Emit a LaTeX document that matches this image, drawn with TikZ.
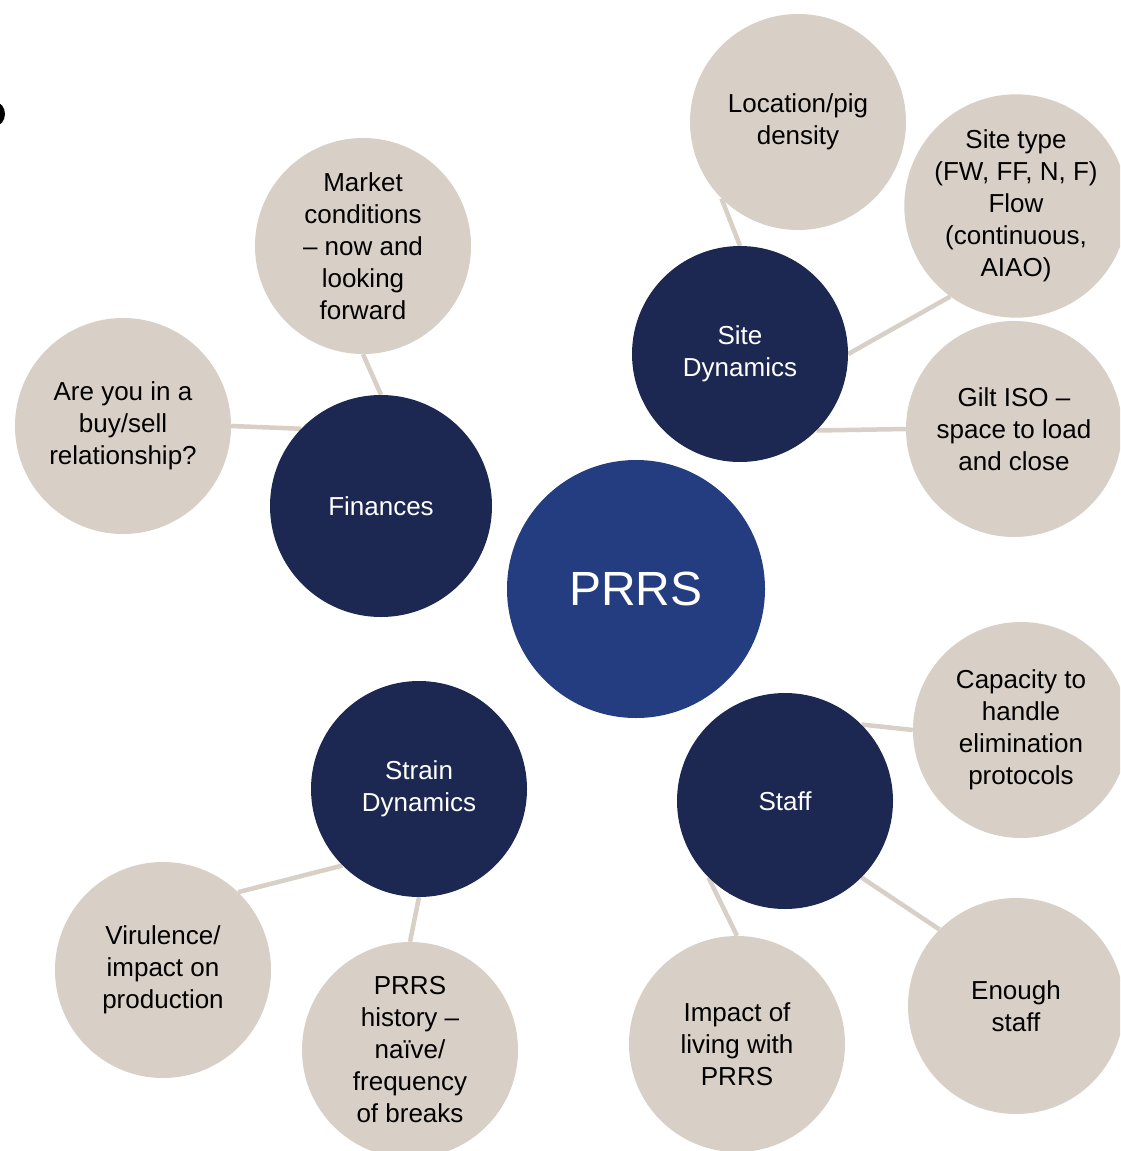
\documentclass[tikz,border=0pt]{standalone}
\usepackage{fontspec}
\setmainfont{Liberation Sans}
\usetikzlibrary{backgrounds}
\definecolor{navy}{RGB}{28,40,82}
\definecolor{hubblue}{RGB}{36,61,128}
\definecolor{sand}{RGB}{216,207,198}
\begin{document}
\begin{tikzpicture}[x=1pt,y=-1pt,
  hub/.style={circle,fill=hubblue,text=white,minimum size=258pt,inner sep=0pt,
    font=\fontsize{48}{56}\selectfont},
  topic/.style={circle,fill=navy,text=white,minimum size=216pt,inner sep=0pt,align=center,
    font=\fontsize{26}{32}\selectfont},
  bigtopic/.style={topic,minimum size=222pt},
  leaf/.style={circle,fill=sand,text=black,minimum size=216pt,inner sep=0pt,align=center,
    font=\fontsize{26}{32}\selectfont},
  link/.style={draw=sand,line width=4.5pt}]
\useasboundingbox (0,0) rectangle (1120,1151);
\clip (0,0) rectangle (1120,1151);
% small dark mark on the left edge
\fill[black] (-5,114) ellipse [x radius=10, y radius=12];

% leaves
\node[leaf] (market) at (363,246) {Market\\conditions\\– now and\\looking\\forward};
\node[leaf] (buysell) at (123,426) {Are you in a\\buy/sell\\relationship?};
\node[leaf] (location) at (798,122) {Location/pig\\density};
\node[leaf] (sitetype) at (1016,206) {Site type\\(FW, FF, N, F)\\Flow\\(continuous,\\AIAO)};
\node[leaf] (gilt) at (1014,429) {Gilt ISO –\\space to load\\and close};
\node[leaf] (capacity) at (1021,730) {Capacity to\\handle\\elimination\\protocols};
\node[leaf] (enough) at (1016,1006) {Enough\\staff};
\node[leaf] (impact) at (737,1044) {Impact of\\living with\\PRRS};
\node[leaf] (history) at (410,1050) {PRRS\\history –\\naïve/\\frequency\\of breaks};
\node[leaf] (virulence) at (163,970) {Virulence/\\impact on\\production};

% topics
\node[bigtopic] (fin) at (381,506) {Finances};
\node[topic] (site) at (740,354) {Site\\Dynamics};
\node[topic] (strain) at (419,789) {Strain\\Dynamics};
\node[topic] (staff) at (785,801) {Staff};

% centre
\node[hub] (prrs) at (636,589) {PRRS};

% connectors, behind the circles
\begin{scope}[on background layer]
\fill[white] (0,0) rectangle (1120,1151);
\draw[link] (market.south) -- (fin.north);
\draw[link] (buysell.east) -- (fin.136);
\draw[link] (location.225) -- (site.north);
\draw[link] (sitetype.234) -- (site.east);
\draw[link] (gilt.west) -- (site.-45);
\draw[link] (capacity.west) -- (staff.45);
\draw[link] (enough.135) -- (staff.-45);
\draw[link] (impact.north) -- (staff.225);
\draw[link] (history.north) -- (strain.south);
\draw[link] (virulence.46) -- (strain.225);
\end{scope}
\end{tikzpicture}
\end{document}
